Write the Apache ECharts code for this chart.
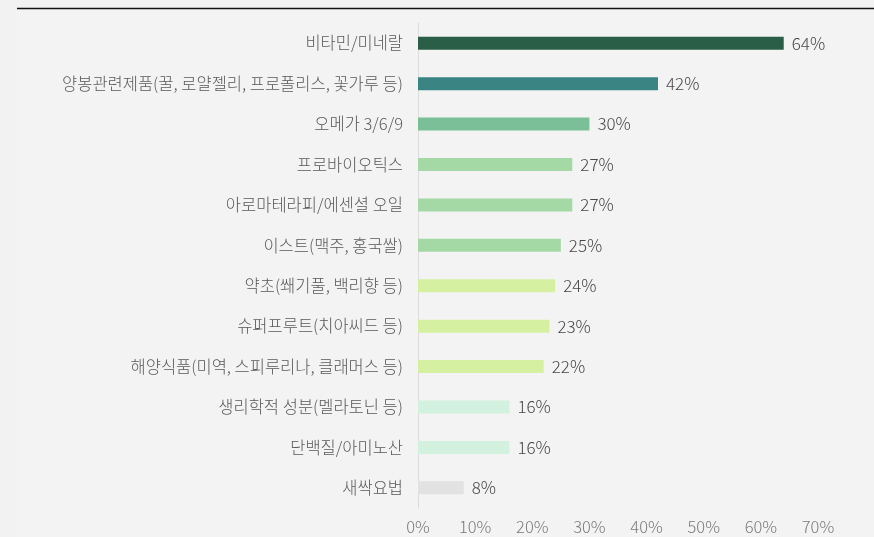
<!DOCTYPE html>
<html>
<head>
<meta charset="utf-8">
<script src="https://cdn.jsdelivr.net/npm/echarts@6/dist/echarts.min.js"></script>
<style>
  html, body { margin: 0; padding: 0; background: #f2f2f2; }
  #chart { width: 874px; height: 537px; }
</style>
</head>
<body>
<div id="chart"></div>
<script>
// Categories, top to bottom
const categories = [
  '비타민/미네랄',
  '양봉관련제품(꿀, 로얄젤리, 프로폴리스, 꽃가루 등)',
  '오메가 3/6/9',
  '프로바이오틱스',
  '아로마테라피/에센셜 오일',
  '이스트(맥주, 홍국쌀)',
  '약초(쐐기풀, 백리향 등)',
  '슈퍼프루트(치아씨드 등)',
  '해양식품(미역, 스피루리나, 클래머스 등)',
  '생리학적 성분(멜라토닌 등)',
  '단백질/아미노산',
  '새싹요법'
];
// Share of respondents (%)
const values = [64, 42, 30, 27, 27, 25, 24, 23, 22, 16, 16, 8];
// Bar fill per category
const barColors = [
  '#2b5e47', '#3a8484', '#7bbf98', '#a4d9a6', '#a4d9a6', '#a4d9a6',
  '#d4f0a0', '#d4f0a0', '#d4f0a0', '#d3f1df', '#d3f1df', '#e2e2e2'
];
const tickMax = 70;
const tickStep = 10;

const chart = echarts.init(document.getElementById('chart'));
const font = '"Noto Sans CJK KR", "Noto Sans", sans-serif';

chart.setOption({
  backgroundColor: '#f2f2f2',
  animation: false,
  graphic: [
    { type: 'rect', shape: { x: 17, y: 8, width: 857, height: 529 }, style: { fill: '#f3f3f3' }, z: -10 },
    { type: 'line', shape: { x1: 17, y1: 8.5, x2: 874, y2: 8.5 }, style: { stroke: '#111', lineWidth: 1.5 } }
  ],
  grid: { left: 418, right: 56, top: 23, bottom: 29, containLabel: false },
  xAxis: {
    type: 'value',
    min: 0,
    max: tickMax,
    interval: tickStep,
    axisLine: { show: false },
    axisTick: { show: false },
    splitLine: { show: false },
    axisLabel: {
      formatter: '{value}%',
      color: '#7a7a7a',
      fontFamily: font,
      fontWeight: 300,
      fontSize: 16.5,
      margin: 10
    }
  },
  yAxis: {
    type: 'category',
    inverse: true,
    data: categories,
    axisLine: { show: true, lineStyle: { color: '#dcdcdc', width: 1 } },
    axisTick: { show: false },
    axisLabel: {
      color: '#595959',
      fontFamily: font,
      fontWeight: 300,
      fontSize: 16.5,
      margin: 15
    }
  },
  series: [{
    type: 'bar',
    barWidth: 13,
    data: values.map((v, i) => ({ value: v, itemStyle: { color: barColors[i] } })),
    label: {
      show: true,
      position: 'right',
      distance: 8,
      formatter: '{c}%',
      color: '#474747',
      fontFamily: font,
      fontWeight: 300,
      fontSize: 17
    }
  }]
});
</script>
</body>
</html>
